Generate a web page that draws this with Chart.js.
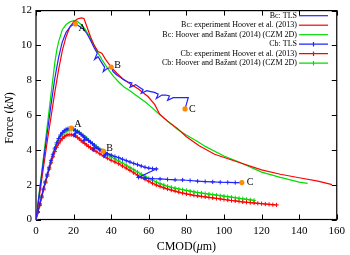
<!DOCTYPE html>
<html>
<head>
<meta charset="utf-8">
<script src="https://cdn.jsdelivr.net/npm/chart.js@4/dist/chart.umd.min.js"></script>
<style>
  html, body { margin: 0; padding: 0; background: #fff; }
</style>
</head>
<body>
<canvas id="chart" width="350" height="255"></canvas>
<script>
// axis ticks
const xTicks = [0, 20, 40, 60, 80, 100, 120, 140, 160];
const yTicks = [0, 2, 4, 6, 8, 10, 12];

// series (CMOD in um, force in kN)
const bcTls = [[0,0],[2,1.7],[4,3.4],[6,5.0],[8,6.6],[10,8.1],[12,9.3],[14,10.2],[16,10.75],[18,11.05],[19.5,11.18],[21,11.23],
  [23,11.1],[25,10.95],[27,10.7],[29,10.3],[31,9.85],[32.6,9.55],[31.2,9.2],[33,9.35],[35,9.0],[36.5,8.75],[35.8,8.5],
  [37.5,8.65],[40,8.76],[41,8.5],[43,8.3],[45,8.15],[47,8.0],[49,7.9],[51,7.85],[50,7.6],[53,7.75],[55,7.6],[57,7.45],
  [56,7.25],[59,7.4],[61,7.35],[63,7.3],[65,7.2],[64,6.95],[67,7.15],[69,7.15],[71,7.1],[70,6.85],[73,7.0],[76,7.0],
  [79,7.0],[81,7.0],[79.3,6.35]];
const bcExp = [[0,0],[2,1.5],[4,3.0],[6,4.5],[8,5.9],[10,7.3],[12,8.6],[14,9.7],[16,10.5],[18,11.05],[20,11.35],[22,11.52],
  [24,11.58],[25.5,11.55],[27,11.1],[29,10.5],[31,10.0],[33,9.65],[35,9.55],[37,9.2],[40,8.75],[43,8.4],[46,8.1],[50,7.8],
  [54.5,7.5],[59.7,7.05],[63.2,6.6],[65.8,6.05],[70,5.65],[75,5.25],[80,4.75],[86.8,4.23],[95,3.75],[107.7,3.29],
  [120,2.85],[130,2.6],[140,2.4],[150,2.2],[157.5,2.0]];
const bcCzm = [[0,0],[2,1.8],[4,3.6],[6,5.4],[8,7.2],[10,9.0],[11,9.7],[12,10.2],[14,10.9],[16,11.2],[18,11.35],[20,11.42],
  [22,11.38],[24,11.2],[26,10.95],[28,10.6],[30,10.2],[32,9.75],[35,9.2],[38,8.7],[41,8.25],[44,7.9],[47,7.6],[49.2,7.45],
  [53,7.15],[58,6.76],[62,6.4],[65,6.1],[70.2,5.63],[75,5.2],[80,4.85],[86.8,4.42],[90,4.2],[100,3.65],[108,3.3],
  [120,2.72],[130,2.42],[140,2.15],[144.5,2.07]];
const cbTls = [[0,0],[1,0.45],[2,0.9],[3,1.35],[4,1.8],[5,2.2],[6,2.6],[7,3.0],[8,3.4],[9,3.75],[10,4.1],[11,4.4],[12,4.65],
  [13,4.85],[14,5.0],[15,5.1],[16,5.18],[17,5.22],[18.7,5.25],[20,5.2],[21,5.1],[20.5,4.85],[22,5.05],[23,4.98],[24,4.88],
  [25,4.8],[26,4.72],[25.5,4.55],[27,4.62],[28,4.53],[29,4.44],[30,4.35],[31,4.27],[30.5,4.0],[32,4.15],[33,4.08],[34,4.0],
  [35,3.95],[35.8,3.93],[37,3.85],[36.5,3.65],[38,3.78],[40,3.7],[42,3.62],[44,3.55],[46,3.46],[48,3.38],[50,3.3],
  [52,3.22],[54,3.15],[56,3.07],[58,3.0],[60,2.95],[62,2.92],[64,2.9],[54.5,2.42],[58,2.38],[62,2.35],[66,2.33],[70,2.3],
  [74,2.28],[78,2.27],[82,2.24],[86,2.2],[90,2.18],[94,2.16],[98,2.14],[102,2.13],[106,2.12],[109.5,2.12]];
const cbExp = [[0,0],[1,0.4],[2,0.8],[3,1.25],[4,1.7],[5,2.1],[6,2.5],[7,2.9],[8,3.25],[9,3.6],[10,3.9],[11,4.15],[12,4.35],
  [13,4.52],[14,4.65],[15,4.75],[16,4.83],[17,4.87],[18,4.88],[19,4.87],[20,4.84],[21,4.8],[22,4.72],[23,4.63],[24,4.53],
  [25,4.45],[26,4.37],[27,4.28],[28,4.2],[29,4.12],[30,4.05],[32,3.9],[34,3.77],[36,3.64],[38,3.52],[40,3.4],[42,3.3],
  [44,3.2],[46,3.07],[48,2.95],[50,2.82],[52,2.68],[54,2.55],[56,2.43],[58,2.31],[60,2.2],[62,2.08],[64,1.98],[66,1.9],
  [68,1.82],[70,1.75],[72,1.69],[74,1.63],[76,1.57],[78,1.52],[80,1.47],[82,1.43],[84,1.39],[86,1.36],[88,1.33],[90,1.3],
  [92,1.27],[94,1.24],[96,1.21],[98,1.18],[100,1.15],[102,1.12],[104,1.09],[106,1.07],[108,1.04],[110,1.01],[112,0.99],
  [114,0.97],[116,0.95],[118,0.93],[120,0.91],[122,0.89],[124,0.87],[126,0.85],[128,0.84]];
const cbCzm = [[0,0],[1,0.42],[2,0.85],[3,1.3],[4,1.72],[5,2.12],[6,2.5],[7,2.9],[8,3.3],[9,3.65],[10,4.0],[11,4.3],[12,4.55],
  [13,4.75],[14,4.9],[15,5.0],[16,5.08],[17,5.13],[18,5.16],[19,5.17],[20,5.16],[21,5.13],[22,5.08],[23,5.0],[24,4.92],
  [25,4.83],[26,4.74],[27,4.65],[28,4.55],[29,4.46],[30,4.37],[31,4.28],[32,4.19],[33,4.1],[34,4.02],[35,3.95],[36,3.88],
  [37,3.8],[38,3.73],[39,3.66],[40,3.6],[42,3.48],[44,3.36],[46,3.24],[48,3.12],[50,2.98],[52,2.86],[54,2.73],[56,2.6],
  [58,2.48],[60,2.36],[62,2.25],[64,2.15],[66,2.06],[68,1.98],[70,1.91],[72,1.85],[74,1.8],[76,1.75],[78,1.71],[80,1.67],
  [82,1.63],[84,1.59],[86,1.55],[88,1.52],[90,1.49],[92,1.46],[94,1.43],[96,1.4],[98,1.37],[100,1.34],[102,1.31],
  [104,1.28],[106,1.25],[108,1.22],[110,1.19],[112,1.16],[114,1.13],[116,1.1]];

// labelled states A, B, C on the TLS curves
const markNames = ['A', 'B', 'C'];
const bcMarks = [[21,11.23],[40,8.76],[79.3,6.35]];
const cbMarks = [[18.7,5.25],[35.8,3.93],[109.5,2.12]];

const seriesNames = [
  'Bc: TLS',
  'Bc: experiment Hoover et al. (2013)',
  'Bc: Hoover and Bažant (2014) (CZM 2D)',
  'Cb: TLS',
  'Cb: experiment Hoover et al. (2013)',
  'Cb: Hoover and Bažant (2014) (CZM 2D)'
];

const BLUE = '#2222ff', RED = '#ff0000', GREEN = '#00dd00', ORANGE = '#ff8c00';
const FONT = "'Liberation Serif', 'Times New Roman', serif";

const pts = arr => arr.map(p => ({ x: p[0], y: p[1] }));

function lineSet(label, data, color, marked) {
    return {
        label: label,
        data: pts(data),
        showLine: true,
        borderColor: color,
        backgroundColor: color,
        borderWidth: 1.2,
        pointStyle: 'cross',
        pointRadius: marked ? 2.1 : 0,
        pointBorderWidth: 1,
        pointBorderColor: color,
        tension: 0
    };
}

// frame with inward ticks on all four sides
const framePlugin = {
    id: 'frame',
    beforeDatasetsDraw(chart) {
        const { ctx, chartArea: a, scales } = chart;
        ctx.save();
        ctx.strokeStyle = '#000';
        ctx.lineWidth = 1;
        ctx.beginPath();
        xTicks.forEach(v => {
            const px = Math.round(scales.x.getPixelForValue(v)) + 0.5;
            ctx.moveTo(px, a.bottom); ctx.lineTo(px, a.bottom - 5);
            ctx.moveTo(px, a.top); ctx.lineTo(px, a.top + 5);
        });
        yTicks.forEach(v => {
            const py = Math.round(scales.y.getPixelForValue(v)) + 0.5;
            ctx.moveTo(a.left, py); ctx.lineTo(a.left + 5, py);
            ctx.moveTo(a.right, py); ctx.lineTo(a.right - 5, py);
        });
        ctx.stroke();
        ctx.lineWidth = 1.2;
        ctx.strokeRect(a.left, a.top, a.right - a.left, a.bottom - a.top);
        ctx.restore();
    },
    afterDraw(chart) {
        const { ctx, chartArea: a, scales } = chart;
        ctx.save();
        ctx.fillStyle = '#000';
        ctx.textBaseline = 'middle';

        // point labels
        ctx.font = '10px ' + FONT;
        ctx.textAlign = 'left';
        const put = (marks, offs) => marks.forEach((m, i) => {
            const px = scales.x.getPixelForValue(m[0]);
            const py = scales.y.getPixelForValue(m[1]);
            ctx.fillText(markNames[i], px + offs[i][0], py + offs[i][1]);
        });
        put(bcMarks, [[3, 4], [3, -2], [4, 0]]);
        put(cbMarks, [[3, -4], [3, -3], [5, 0]]);

        // axis titles
        const xt = ['CMOD(', 'μ', 'm)'];
        const xf = ['', 'italic ', ''];
        let w = 0;
        xt.forEach((t, i) => { ctx.font = xf[i] + '12px ' + FONT; w += ctx.measureText(t).width; });
        let cx = (a.left + a.right) / 2 - w / 2;
        xt.forEach((t, i) => {
            ctx.font = xf[i] + '12px ' + FONT;
            ctx.fillText(t, cx, 247);
            cx += ctx.measureText(t).width;
        });

        ctx.translate(10, (a.top + a.bottom) / 2 + 3);
        ctx.rotate(-Math.PI / 2);
        const yt = ['Force (', 'kN', ')'];
        const yf = ['', 'italic ', ''];
        w = 0;
        yt.forEach((t, i) => { ctx.font = yf[i] + '12px ' + FONT; w += ctx.measureText(t).width; });
        cx = -w / 2;
        yt.forEach((t, i) => {
            ctx.font = yf[i] + '12px ' + FONT;
            ctx.fillText(t, cx, 0);
            cx += ctx.measureText(t).width;
        });
        ctx.restore();

        // key, gnuplot style: text right aligned, sample to the right
        ctx.save();
        ctx.font = '8px ' + FONT;
        ctx.textAlign = 'right';
        ctx.textBaseline = 'middle';
        const colors = [BLUE, RED, GREEN, BLUE, RED, GREEN];
        seriesNames.forEach((name, i) => {
            const y = 15.7 + i * 9.5;
            ctx.fillStyle = '#000';
            ctx.fillText(name, 297, y);
            ctx.strokeStyle = colors[i];
            ctx.lineWidth = 1.2;
            ctx.beginPath();
            ctx.moveTo(299, y); ctx.lineTo(328, y);
            if (i >= 3) {
                ctx.moveTo(313.5, y - 2.2); ctx.lineTo(313.5, y + 2.2);
            }
            ctx.stroke();
        });
        ctx.restore();
    }
};

new Chart(document.getElementById('chart'), {
    type: 'scatter',
    data: {
        datasets: [
            {
                label: 'marks',
                data: pts(bcMarks.concat(cbMarks)),
                pointStyle: 'circle',
                pointRadius: 2.6,
                backgroundColor: ORANGE,
                borderColor: ORANGE,
                borderWidth: 0,
                showLine: false
            },
            lineSet(seriesNames[0], bcTls, BLUE, false),
            lineSet(seriesNames[1], bcExp, RED, false),
            lineSet(seriesNames[2], bcCzm, GREEN, false),
            lineSet(seriesNames[3], cbTls, BLUE, true),
            lineSet(seriesNames[4], cbExp, RED, true),
            lineSet(seriesNames[5], cbCzm, GREEN, true)
        ]
    },
    options: {
        responsive: false,
        animation: false,
        devicePixelRatio: 1,
        layout: { padding: { top: 7.5, right: 8, left: 0, bottom: 0 } },
        plugins: {
            legend: { display: false },
            tooltip: { enabled: false }
        },
        scales: {
            x: {
                type: 'linear',
                min: 0,
                max: 160,
                afterFit: s => { s.height = 35.5; },
                afterBuildTicks: s => { s.ticks = xTicks.map(v => ({ value: v })); },
                grid: { display: false, drawTicks: false },
                border: { display: false },
                ticks: {
                    color: '#000',
                    padding: 5,
                    maxRotation: 0,
                    font: { family: FONT, size: 11 }
                }
            },
            y: {
                min: 0,
                max: 12,
                afterFit: s => { s.width = 36; },
                afterBuildTicks: s => { s.ticks = yTicks.map(v => ({ value: v })); },
                grid: { display: false, drawTicks: false },
                border: { display: false },
                ticks: {
                    color: '#000',
                    padding: 4,
                    font: { family: FONT, size: 11 }
                }
            }
        }
    },
    plugins: [framePlugin]
});
</script>
</body>
</html>
